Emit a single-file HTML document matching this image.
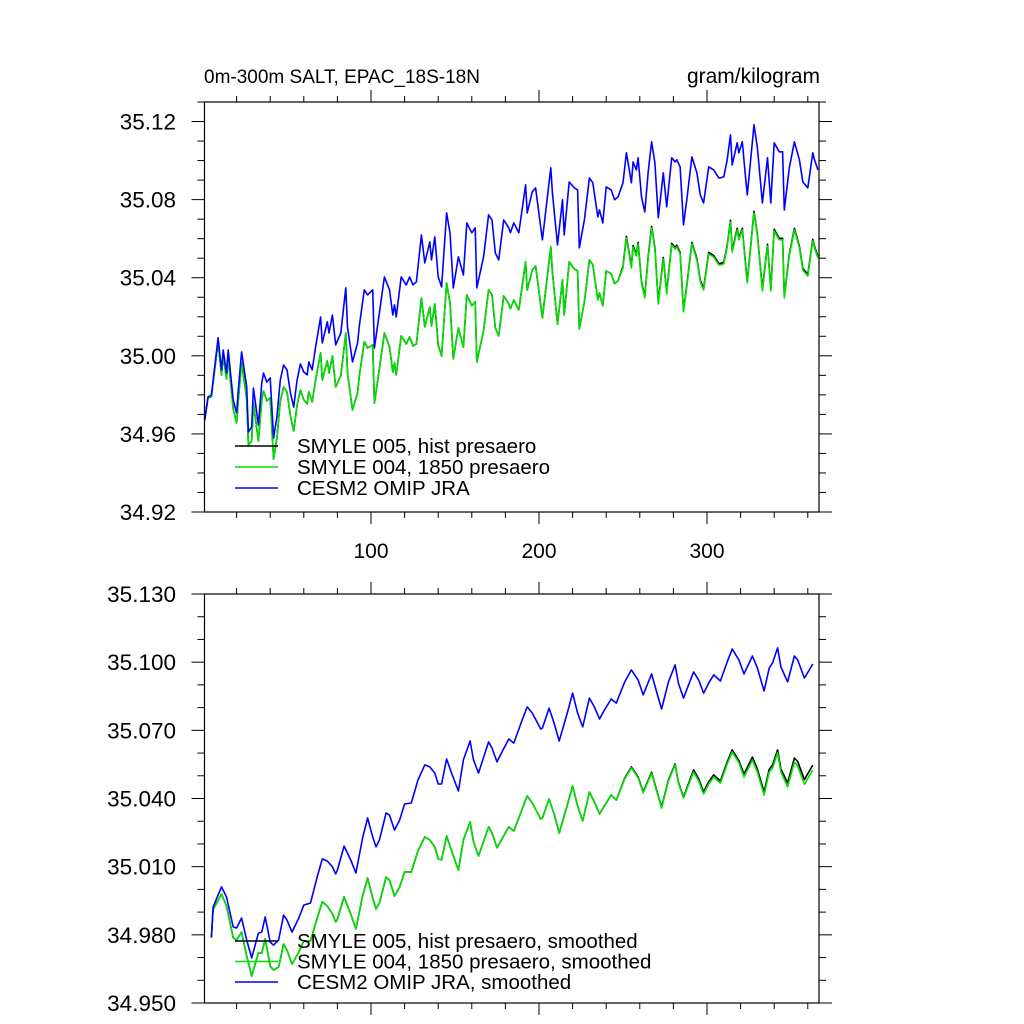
<!DOCTYPE html>
<html><head><meta charset="utf-8"><style>
html,body{margin:0;padding:0;background:#fff}
svg{display:block}
text{font-family:"Liberation Sans",sans-serif;fill:#000}
</style></head><body>
<svg id="chart" width="1024" height="1024" viewBox="0 0 1024 1024" xmlns="http://www.w3.org/2000/svg">
<text x="204" y="83" font-size="19">0m-300m SALT, EPAC_18S-18N</text>
<text x="820" y="83" font-size="21" text-anchor="end">gram/kilogram</text>
</svg>
<script>
const monthsTop=[1,3,5,9,11,12,14,15,18,20,21,23,26,27,29,30,33,35,36,38,40,42,44,46,48,50,52,54,56,58,60,62,63,65,67,70,71,74,75,77,79,82,85,86,89,92,93,96,98,101,102,105,108,111,113,114,115,118,121,123,125,127,130,132,135,136,138,140,142,145,147,149,152,155,157,160,162,163,167,170,172,174,176,179,182,183,185,188,192,193,196,198,201,202,207,208,211,214,215,218,221,223,224,227,230,232,235,236,238,240,243,245,247,250,252,255,256,258,259,261,263,265,267,269,271,274,276,279,281,282,284,286,288,291,294,296,298,301,304,307,308,310,312,314,315,318,319,321,323,324,328,330,333,336,338,340,343,345,346,349,352,355,357,360,363,364,366];
const blueTop=[34.9671,34.9789,34.9800,35.0092,34.9928,35.0030,34.9912,35.0030,34.9774,34.9707,34.9825,35.0020,34.9841,34.9610,34.9636,34.9835,34.9646,34.9861,34.9912,34.9866,34.9887,34.9579,34.9687,34.9876,34.9953,34.9928,34.9810,34.9738,34.9876,34.9958,34.9917,34.9902,34.9969,34.9928,35.0045,35.0199,35.0066,35.0174,35.0117,35.0209,35.0056,35.0117,35.0348,35.0148,34.9969,35.0066,35.0148,35.0338,35.0312,35.0338,35.0040,35.0220,35.0404,35.0338,35.0209,35.0261,35.0199,35.0404,35.0363,35.0404,35.0363,35.0379,35.0619,35.0476,35.0583,35.0491,35.0609,35.0404,35.0353,35.0732,35.0630,35.0348,35.0507,35.0414,35.0681,35.0630,35.0655,35.0348,35.0507,35.0722,35.0696,35.0527,35.0491,35.0696,35.0655,35.0630,35.0681,35.0630,35.0876,35.0732,35.0840,35.0860,35.0660,35.0594,35.0963,35.0835,35.0568,35.0799,35.0619,35.0891,35.0860,35.0850,35.0553,35.0696,35.0911,35.0886,35.0712,35.0747,35.0681,35.0865,35.0850,35.0799,35.0814,35.0886,35.1040,35.0886,35.0993,35.0952,35.1014,35.0814,35.0737,35.0942,35.1096,35.0988,35.0707,35.0937,35.0763,35.1014,35.0993,35.1004,35.0968,35.0671,35.0799,35.1019,35.0937,35.0824,35.0783,35.0968,35.0952,35.0911,35.0911,35.0917,35.1004,35.1132,35.0978,35.1091,35.1040,35.1096,35.0911,35.0824,35.1183,35.1065,35.0783,35.1014,35.0783,35.1091,35.1045,35.1045,35.0747,35.0963,35.1096,35.1004,35.0891,35.0860,35.1040,35.1004,35.0952];
const greenTop=[34.9671,34.9784,34.9790,35.0072,34.9902,35.0004,34.9881,34.9994,34.9728,34.9656,34.9774,34.9964,34.9780,34.9543,34.9564,34.9758,34.9564,34.9774,34.9820,34.9769,34.9785,34.9471,34.9579,34.9768,34.9840,34.9815,34.9692,34.9615,34.9748,34.9825,34.9774,34.9753,34.9815,34.9764,34.9876,35.0015,34.9876,34.9974,34.9912,34.9999,34.9841,34.9897,35.0117,34.9912,34.9723,34.9810,34.9892,35.0072,35.0040,35.0056,34.9758,34.9933,35.0117,35.0046,34.9917,34.9964,34.9902,35.0102,35.0061,35.0097,35.0050,35.0061,35.0296,35.0148,35.0250,35.0153,35.0266,35.0056,34.9999,35.0373,35.0271,34.9984,35.0143,35.0045,35.0312,35.0256,35.0276,34.9969,35.0128,35.0338,35.0312,35.0143,35.0102,35.0307,35.0266,35.0241,35.0286,35.0235,35.0481,35.0337,35.0440,35.0460,35.0260,35.0194,35.0558,35.0430,35.0163,35.0389,35.0209,35.0481,35.0445,35.0435,35.0138,35.0276,35.0491,35.0466,35.0287,35.0322,35.0256,35.0435,35.0420,35.0369,35.0384,35.0450,35.0604,35.0450,35.0557,35.0511,35.0573,35.0373,35.0296,35.0501,35.0655,35.0547,35.0266,35.0496,35.0317,35.0568,35.0547,35.0558,35.0522,35.0225,35.0353,35.0573,35.0491,35.0378,35.0337,35.0522,35.0506,35.0465,35.0465,35.0471,35.0558,35.0686,35.0532,35.0645,35.0594,35.0645,35.0460,35.0373,35.0732,35.0614,35.0332,35.0563,35.0332,35.0640,35.0594,35.0594,35.0296,35.0512,35.0645,35.0553,35.0440,35.0409,35.0589,35.0553,35.0501];
const blackTop=[34.9671,34.9784,34.9790,35.0072,34.9902,35.0004,34.9881,34.9994,34.9728,34.9656,34.9774,34.9964,34.9780,34.9543,34.9564,34.9758,34.9564,34.9774,34.9820,34.9769,34.9785,34.9471,34.9579,34.9768,34.9840,34.9815,34.9692,34.9615,34.9748,34.9825,34.9774,34.9753,34.9815,34.9764,34.9876,35.0015,34.9876,34.9974,34.9912,34.9999,34.9841,34.9897,35.0117,34.9912,34.9723,34.9810,34.9892,35.0072,35.0040,35.0056,34.9758,34.9933,35.0117,35.0046,34.9917,34.9964,34.9902,35.0102,35.0061,35.0097,35.0050,35.0061,35.0296,35.0148,35.0250,35.0153,35.0266,35.0056,34.9999,35.0373,35.0271,34.9984,35.0143,35.0045,35.0312,35.0256,35.0276,34.9969,35.0128,35.0338,35.0312,35.0143,35.0102,35.0307,35.0266,35.0241,35.0286,35.0235,35.0481,35.0337,35.0440,35.0460,35.0260,35.0194,35.0558,35.0430,35.0163,35.0389,35.0209,35.0481,35.0445,35.0435,35.0138,35.0276,35.0491,35.0466,35.0287,35.0322,35.0256,35.0435,35.0420,35.0369,35.0384,35.0458,35.0612,35.0458,35.0565,35.0519,35.0581,35.0381,35.0304,35.0509,35.0663,35.0555,35.0274,35.0504,35.0325,35.0576,35.0555,35.0566,35.0530,35.0233,35.0361,35.0581,35.0499,35.0386,35.0345,35.0530,35.0514,35.0473,35.0473,35.0479,35.0566,35.0694,35.0540,35.0653,35.0602,35.0653,35.0468,35.0381,35.0740,35.0622,35.0340,35.0571,35.0340,35.0648,35.0602,35.0602,35.0304,35.0520,35.0653,35.0561,35.0448,35.0417,35.0597,35.0561,35.0509];

const monthsBot=[5,6,11,14,18,20,23,26,29,33,35,37,40,42,45,48,50,53,57,60,64,68,71,74,77,79,80,84,88,91,95,98,101,103,105,109,111,114,117,120,124,128,132,135,138,140,142,145,148,152,155,159,161,164,170,172,175,178,182,185,190,193,196,201,202,206,209,212,217,220,223,226,230,233,236,239,243,246,251,255,259,262,267,270,273,277,281,283,286,292,295,298,301,304,308,312,315,319,322,327,330,334,337,339,342,344,348,352,354,358,363];
const blueBot=[34.9790,34.9923,35.0011,34.9967,34.9835,34.9830,34.9874,34.9777,34.9698,34.9808,34.9812,34.9879,34.9768,34.9755,34.9777,34.9887,34.9865,34.9812,34.9874,34.9931,34.9940,35.0055,35.0134,35.0125,35.0099,35.0068,35.0085,35.0191,35.0129,35.0072,35.0226,35.0314,35.0231,35.0187,35.0217,35.0336,35.0327,35.0261,35.0305,35.0376,35.0380,35.0482,35.0548,35.0539,35.0512,35.0464,35.0464,35.0574,35.0512,35.0433,35.0570,35.0653,35.0570,35.0512,35.0649,35.0622,35.0561,35.0605,35.0662,35.0644,35.0746,35.0803,35.0776,35.0706,35.0710,35.0798,35.0732,35.0653,35.0781,35.0864,35.0776,35.0715,35.0842,35.0803,35.0750,35.0790,35.0838,35.0820,35.0913,35.0966,35.0922,35.0856,35.0948,35.0869,35.0794,35.0913,35.0988,35.0908,35.0842,35.0957,35.0922,35.0864,35.0908,35.0944,35.0917,35.1001,35.1058,35.1010,35.0948,35.1027,35.0974,35.0873,35.0974,35.0996,35.1063,35.0979,35.0913,35.1027,35.1010,35.0930,35.0992];
const greenBot=[34.9786,34.9910,34.9980,34.9927,34.9787,34.9777,34.9812,34.9707,34.9619,34.9720,34.9720,34.9782,34.9662,34.9645,34.9658,34.9759,34.9733,34.9671,34.9724,34.9773,34.9773,34.9875,34.9945,34.9927,34.9892,34.9857,34.9869,34.9967,34.9891,34.9826,34.9971,35.0050,34.9963,34.9914,34.9940,35.0054,35.0041,34.9971,35.0010,35.0077,35.0076,35.0170,35.0231,35.0218,35.0186,35.0134,35.0130,35.0235,35.0169,35.0085,35.0218,35.0297,35.0209,35.0147,35.0275,35.0248,35.0183,35.0222,35.0275,35.0257,35.0354,35.0411,35.0380,35.0310,35.0314,35.0398,35.0332,35.0248,35.0376,35.0455,35.0367,35.0301,35.0428,35.0385,35.0332,35.0368,35.0416,35.0393,35.0486,35.0535,35.0491,35.0425,35.0512,35.0433,35.0358,35.0477,35.0548,35.0468,35.0402,35.0517,35.0478,35.0420,35.0464,35.0495,35.0468,35.0552,35.0605,35.0557,35.0495,35.0569,35.0516,35.0415,35.0516,35.0534,35.0601,35.0517,35.0451,35.0560,35.0543,35.0463,35.0525];
const blackBot=[34.9786,34.9910,34.9980,34.9927,34.9787,34.9777,34.9812,34.9707,34.9619,34.9720,34.9720,34.9782,34.9662,34.9645,34.9658,34.9759,34.9733,34.9671,34.9724,34.9773,34.9773,34.9875,34.9945,34.9927,34.9892,34.9857,34.9869,34.9967,34.9891,34.9826,34.9971,35.0050,34.9963,34.9914,34.9940,35.0054,35.0041,34.9971,35.0010,35.0077,35.0076,35.0170,35.0231,35.0218,35.0186,35.0134,35.0130,35.0235,35.0169,35.0085,35.0218,35.0297,35.0209,35.0147,35.0275,35.0248,35.0183,35.0222,35.0275,35.0257,35.0354,35.0411,35.0380,35.0310,35.0314,35.0398,35.0332,35.0248,35.0376,35.0455,35.0367,35.0301,35.0428,35.0385,35.0332,35.0368,35.0416,35.0393,35.0490,35.0539,35.0495,35.0429,35.0516,35.0437,35.0362,35.0481,35.0552,35.0472,35.0406,35.0526,35.0487,35.0429,35.0473,35.0504,35.0477,35.0561,35.0614,35.0566,35.0508,35.0582,35.0529,35.0428,35.0529,35.0547,35.0614,35.0530,35.0469,35.0578,35.0563,35.0483,35.0547];

const yTicksTop=["35.12","35.08","35.04","35.00","34.96","34.92"];
const yTicksBot=["35.130","35.100","35.070","35.040","35.010","34.980","34.950"];
const xTickLabels=["100","200","300"];
const legendTop=["SMYLE 005, hist presaero","SMYLE 004, 1850 presaero","CESM2 OMIP JRA"];
const legendBot=["SMYLE 005, hist presaero, smoothed","SMYLE 004, 1850 presaero, smoothed","CESM2 OMIP JRA, smoothed"];

const NS="http://www.w3.org/2000/svg";
const svg=document.getElementById('chart');
const L=204.5,R=819;
const xs=m=>203+m*1.68;
function mk(tag,attrs,parent){const e=document.createElementNS(NS,tag);for(const k in attrs)e.setAttribute(k,attrs[k]);(parent||svg).appendChild(e);return e;}

function panel(p){
  const g=mk('g',{});
  
  
  const ys=v=>p.yTop+(p.vmax-v)*(p.yBot-p.yTop)/(p.vmax-p.vmin);
  const series=[[p.black,'#000','black'],[p.green,'#00e000','green'],[p.blue,'#0000ff','blue']];
  series.forEach(([arr,col,nm])=>{
    const d=arr.map((v,i)=>(i?'L':'M')+xs(p.months[i]).toFixed(1)+','+ys(v).toFixed(1)).join('');
    const path=mk('path',{d:d,fill:'none',stroke:col,'stroke-width':1.6,'stroke-linejoin':'round'},g);
    
    
  });
  const frame=mk('rect',{x:L,y:p.yTop,width:R-L,height:p.yBot-p.yTop,fill:'none',stroke:'#000','stroke-width':1.2},g);
  
  
  for(let m=20;m<=360;m+=20){
    const xp=203+m*1.68;
    const major=m%100===0;const len=major?12:6;
    mk('line',{x1:xp,x2:xp,y1:p.yTop,y2:p.yTop-len,stroke:'#000','stroke-width':1},g);
    mk('line',{x1:xp,x2:xp,y1:p.yBot,y2:p.yBot+len,stroke:'#000','stroke-width':1},g);
  }
  const nMinor=Math.round((p.vmax-p.vmin)/0.01);
  for(let i=0;i<=nMinor;i++){
    const v=p.vmin+i*0.01;const y=ys(v);
    const major=(i%p.majorEvery)===0;const len=major?13:7;
    mk('line',{x1:L,x2:L-len,y1:y,y2:y,stroke:'#000','stroke-width':1},g);
    mk('line',{x1:R,x2:R+len,y1:y,y2:y,stroke:'#000','stroke-width':1},g);
  }
  p.yLabels.forEach((t,i)=>{
    const v=p.vmax0-i*p.labelStep;
    const tx=mk('text',{x:176,y:ys(v)+8,'font-size':p.yFont,'text-anchor':'end'},g);
    tx.textContent=t;
    
    
  });
  if(p.xLabels){
    xTickLabels.forEach(t=>{
      const tx=mk('text',{x:203+(+t)*1.68,y:p.yBot+46,'font-size':21,'text-anchor':'middle'},g);
      tx.textContent=t;
      
      
    });
  }
  const cols=['#000','#00e000','#0000ff'];
  p.legend.forEach((t,i)=>{
    const y=p.legY+i*p.legStep;
    const ln=mk('line',{x1:235,x2:278,y1:y,y2:y,stroke:cols[i],'stroke-width':1.6},g);
    
    
    const tx=mk('text',{x:297,y:y+7,'font-size':p.legFont},g);
    tx.textContent=t;
    
    
  });
}
panel({name:'top-panel',months:monthsTop,blue:blueTop,green:greenTop,black:blackTop,yTop:102,yBot:512,vmin:34.92,vmax:35.13,vmax0:35.12,labelStep:0.04,majorEvery:4,yLabels:yTicksTop,yFont:22.5,xLabels:true,legend:legendTop,legY:446,legStep:21,legFont:20.5});
panel({name:'bottom-panel',months:monthsBot,blue:blueBot,green:greenBot,black:blackBot,yTop:594,yBot:1003,vmin:34.95,vmax:35.13,vmax0:35.13,labelStep:0.03,majorEvery:3,yLabels:yTicksBot,yFont:22.5,xLabels:false,legend:legendBot,legY:941,legStep:20.5,legFont:20.5});
</script>
</body></html>
